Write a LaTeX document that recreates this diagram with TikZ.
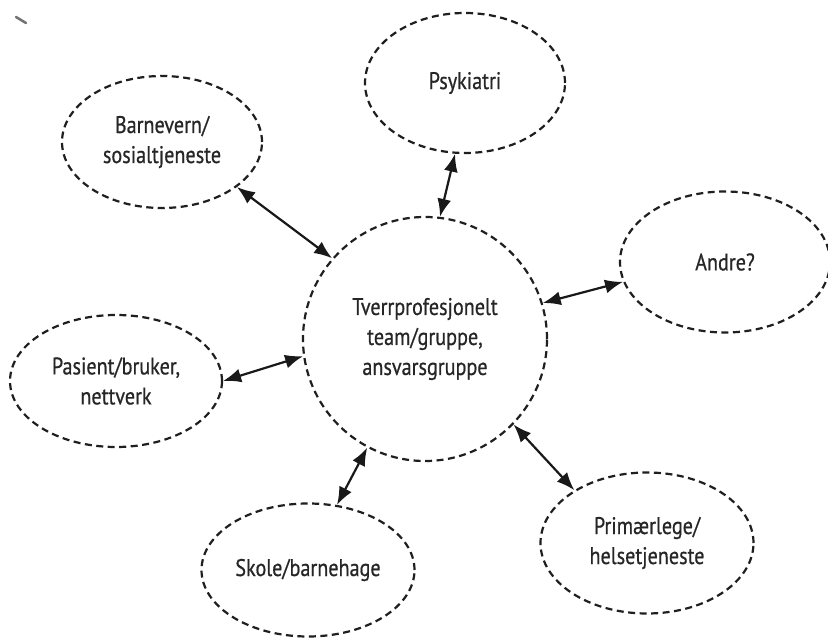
\documentclass[tikz,border=0pt]{standalone}
\usepackage{fontspec}
\setmainfont{PT Sans}[FakeStretch=0.84, FakeBold=0.6]
\usetikzlibrary{shapes.geometric,arrows.meta}
\tikzset{
  dashline/.style={draw=black!88, line width=2.2pt, dash pattern=on 7pt off 4.5pt},
  bubble/.style={ellipse, dashline, inner sep=0pt, align=center,
     font=\fontsize{24}{30}\selectfont, text=black!85},
  hub/.style={circle, dashline, inner sep=0pt, minimum size=244pt, align=center,
     font=\fontsize{24}{30}\selectfont, text=black!85},
  link/.style={draw=black!90, line width=2.2pt,
     {Latex[length=18pt,width=14pt]}-{Latex[length=18pt,width=14pt]}}
}
\begin{document}
\begin{tikzpicture}[x=1pt,y=-1pt]
\useasboundingbox (0,0) rectangle (828,644);
\fill[white] (0,0) rectangle (828,644);
\draw[black!55, line width=2.5pt, line cap=round] (16,17) -- (26,23);

\node[hub] (hub) at (425,339) {Tverrprofesjonelt\\team/gruppe,\\ansvarsgruppe};
\node[bubble, minimum width=200pt, minimum height=140pt] (psy) at (465,83) {Psykiatri};
\node[bubble, minimum width=200pt, minimum height=132pt] (barn) at (162,142) {Barnevern/\\sosialtjeneste};
\node[bubble, minimum width=210pt, minimum height=141pt] (andre) at (725,262) {Andre?};
\node[bubble, minimum width=212pt, minimum height=132pt] (pas) at (116,381) {Pasient/bruker,\\nettverk};
\node[bubble, minimum width=213pt, minimum height=133pt] (skole) at (308,570) {Skole/barnehage};
\node[bubble, minimum width=213pt, minimum height=141pt] (prim) at (647,543) {Primærlege/\\helsetjeneste};

\draw[link] (barn.329) -- (hub.139);
\draw[link] (psy.262) -- (hub.83);
\draw[link] (andre.191) -- (hub.17);
\draw[link] (pas.0) -- (hub.188);
\draw[link] (skole.66) -- (hub.242);
\draw[link] (prim.144) -- (hub.316);
\end{tikzpicture}
\end{document}
